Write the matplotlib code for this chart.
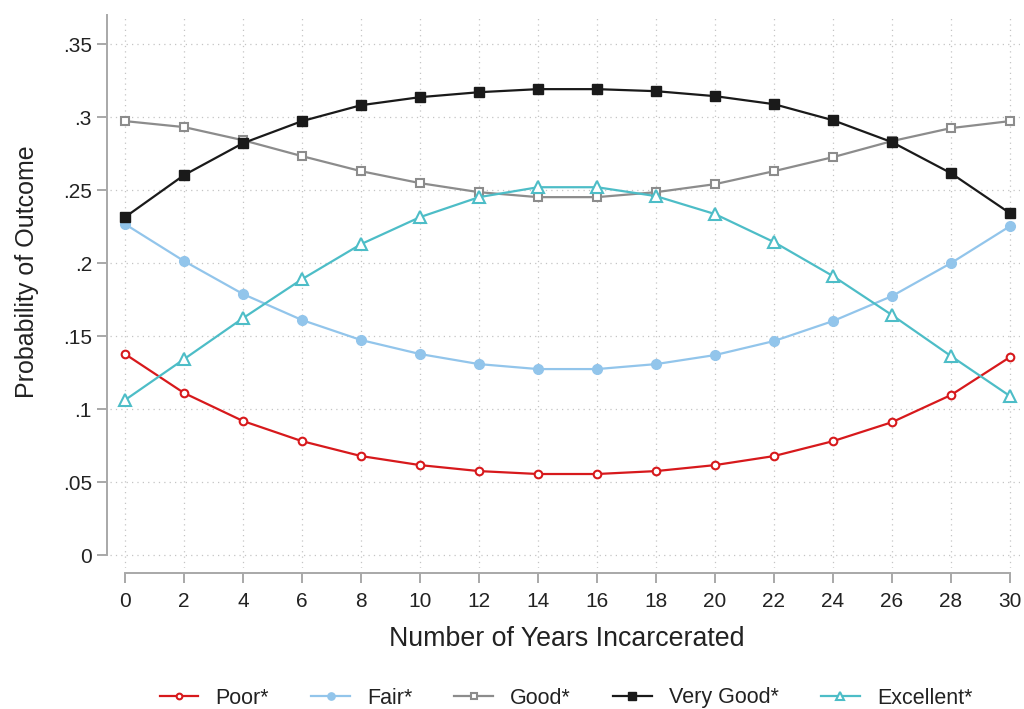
import matplotlib
matplotlib.use("Agg")
import matplotlib.pyplot as plt
from matplotlib.ticker import FixedLocator

plt.rcParams['font.family'] = ['Liberation Sans', 'DejaVu Sans']

years = [0, 2, 4, 6, 8, 10, 12, 14, 16, 18, 20, 22, 24, 26, 28, 30]

poor = [0.1377, 0.1110, 0.0918, 0.0780, 0.0678, 0.0616, 0.0575, 0.0555,
        0.0555, 0.0575, 0.0616, 0.0678, 0.0780, 0.0910, 0.1096, 0.1356]
fair = [0.2267, 0.2014, 0.1788, 0.1610, 0.1473, 0.1377, 0.1308, 0.1274,
        0.1274, 0.1308, 0.1370, 0.1466, 0.1603, 0.1774, 0.2000, 0.2253]
good = [0.2973, 0.2932, 0.2842, 0.2733, 0.2630, 0.2548, 0.2486, 0.2452,
        0.2452, 0.2486, 0.2541, 0.2630, 0.2726, 0.2836, 0.2925, 0.2973]
very_good = [0.2315, 0.2603, 0.2822, 0.2973, 0.3082, 0.3137, 0.3171, 0.3192,
             0.3192, 0.3178, 0.3144, 0.3089, 0.2979, 0.2829, 0.2616, 0.2342]
excellent = [0.1062, 0.1342, 0.1623, 0.1890, 0.2130, 0.2315, 0.2452, 0.2520,
             0.2520, 0.2459, 0.2336, 0.2144, 0.1911, 0.1644, 0.1363, 0.1089]

labels = ["Poor*", "Fair*", "Good*", "Very Good*", "Excellent*"]
y_ticks = [0, 0.05, 0.10, 0.15, 0.20, 0.25, 0.30, 0.35]
y_tick_labels = ["0", ".05", ".1", ".15", ".2", ".25", ".3", ".35"]
x_ticks = years

fig = plt.figure(figsize=(10.24, 7.09), dpi=100)
W, H = 1024, 709
left, right, top, bottom = 110, 1020, 15, 568
ax = fig.add_axes([left / W, 1 - bottom / H, (right - left) / W, (bottom - top) / H])

styles = [
    dict(color="#d7191c", marker="o", mfc="white", ms=5.5, mew=1.5),
    dict(color="#92c5eb", marker="o", mfc="#92c5eb", ms=7, mew=1.0),
    dict(color="#8c8c8c", marker="s", mfc="white", ms=6, mew=1.5),
    dict(color="#1a1a1a", marker="s", mfc="#1a1a1a", ms=7.5, mew=1.0),
    dict(color="#4dbdc7", marker="^", mfc="white", ms=8, mew=1.5),
]
series = [poor, fair, good, very_good, excellent]
for vals, lab, st in zip(series, labels, styles):
    ax.plot(years, vals, label=lab, lw=1.6, color=st["color"], marker=st["marker"],
            markerfacecolor=st["mfc"], markeredgecolor=st["color"],
            markersize=st["ms"], markeredgewidth=st["mew"], zorder=3)

ax.set_xlim(-0.51, 30.34)
ax.set_ylim(-0.0089, 0.37)

ax.xaxis.set_major_locator(FixedLocator(x_ticks))
ax.set_xticklabels([str(v) for v in x_ticks])
ax.yaxis.set_major_locator(FixedLocator(y_ticks))
ax.set_yticklabels(y_tick_labels)

ax.grid(True, which="major", color="#c4c4c4", linestyle=(0, (1, 3.3)), linewidth=0.9, zorder=0)

for s in ["top", "right"]:
    ax.spines[s].set_visible(False)
axis_gray = "#a8a8a8"
for s in ["left", "bottom"]:
    ax.spines[s].set_color(axis_gray)
    ax.spines[s].set_linewidth(1.4)
ax.spines["left"].set_position(("outward", 2.2))
ax.spines["bottom"].set_position(("outward", 3.6))
ax.spines["left"].set_bounds(0, 0.37)
ax.spines["bottom"].set_bounds(0, 30)

ax.tick_params(axis="both", direction="out", length=7.2, width=1.4, color=axis_gray,
               labelsize=15, labelcolor="#222222")
ax.tick_params(axis="x", pad=6.5)
ax.tick_params(axis="y", pad=3.6)

ax.set_xlabel("Number of Years Incarcerated", fontsize=19.3, color="#222222")
ax.xaxis.set_label_coords(567 / W, 1 - 626 / H, transform=fig.transFigure)
ax.set_ylabel("Probability of Outcome", fontsize=18, color="#222222")
ax.yaxis.set_label_coords(39 / W, 1 - 272 / H, transform=fig.transFigure)

fig.legend(loc="center", bbox_to_anchor=(566 / W, 1 - 698 / H), ncol=5, frameon=False,
           fontsize=15.5, handlelength=1.8, columnspacing=1.95, handletextpad=0.8,
           markerscale=0.75, labelcolor="#222222")

fig.savefig("out.png", dpi=100, facecolor="white")
